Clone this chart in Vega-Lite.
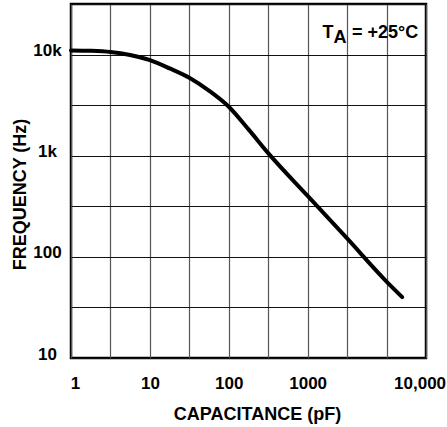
{
  "$schema": "https://vega.github.io/schema/vega-lite/v6.json",
  "width": 355,
  "height": 354,
  "autosize": {"type": "none"},
  "padding": {"left": 71, "top": 4, "right": 21, "bottom": 69},
  "background": "white",
  "config": {
    "view": {"stroke": "black", "strokeWidth": 2.5},
    "font": "Liberation Sans"
  },
  "layer": [
    {
      "data": {
        "values": [
          {"capacitance": 1, "frequency": 11000},
          {"capacitance": 1.78, "frequency": 10900},
          {"capacitance": 3.16, "frequency": 10600},
          {"capacitance": 5.6, "frequency": 9900},
          {"capacitance": 10, "frequency": 8800},
          {"capacitance": 17.8, "frequency": 7300},
          {"capacitance": 31.6, "frequency": 5900},
          {"capacitance": 56, "frequency": 4400},
          {"capacitance": 100, "frequency": 3050},
          {"capacitance": 178, "frequency": 1820},
          {"capacitance": 316, "frequency": 1060},
          {"capacitance": 1000, "frequency": 400},
          {"capacitance": 3162, "frequency": 152},
          {"capacitance": 10000, "frequency": 57},
          {"capacitance": 15800, "frequency": 40}
        ]
      },
      "mark": {"type": "line", "color": "black", "strokeWidth": 4, "interpolate": "monotone", "strokeCap": "round"},
      "encoding": {
        "x": {
          "field": "capacitance",
          "type": "quantitative",
          "scale": {"type": "log", "domain": [1, 31622.8], "nice": false},
          "axis": {
            "values": [1, 3.16228, 10, 31.6228, 100, 316.228, 1000, 3162.28, 10000, 31622.8],
            "grid": true,
            "gridColor": "#555555",
            "gridWidth": 1.2,
            "domain": false,
            "ticks": false,
            "labelExpr": "datum.value == 1 ? '1' : datum.value == 10 ? '10' : datum.value == 100 ? '100' : datum.value == 1000 ? '1000' : datum.value == 10000 ? '10,000' : ''",
            "labelFont": "Liberation Sans",
            "labelFontWeight": "bold",
            "labelFontSize": 17,
            "labelColor": "black",
            "labelPadding": 17,
            "labelFlush": false,
            "labelOverlap": false,
            "labelBound": false,
            "labelOffset": {"condition": [{"test": "datum.value > 9000 && datum.value < 11000", "value": 33}, {"test": "datum.value < 1.5", "value": 4}], "value": 0},
            "title": "CAPACITANCE (pF)",
            "titleFont": "Liberation Sans",
            "titleFontSize": 18,
            "titleFontWeight": "bold",
            "titleColor": "black",
            "titleBaseline": "alphabetic",
            "titleX": 186,
            "titleY": 61
          }
        },
        "y": {
          "field": "frequency",
          "type": "quantitative",
          "scale": {"type": "log", "domain": [10, 31622.8], "nice": false},
          "axis": {
            "values": [10, 31.6228, 100, 316.228, 1000, 3162.28, 10000, 31622.8],
            "grid": true,
            "gridColor": "#111111",
            "gridWidth": 1.2,
            "domain": false,
            "ticks": false,
            "labelExpr": "datum.value == 10 ? '10' : datum.value == 100 ? '100' : datum.value == 1000 ? '1k' : datum.value == 10000 ? '10k' : ''",
            "labelFont": "Liberation Sans",
            "labelFontWeight": "bold",
            "labelFontSize": 17,
            "labelColor": "black",
            "labelAlign": "center",
            "labelPadding": 24,
            "labelOffset": -4,
            "labelFlush": false,
            "labelOverlap": false,
            "labelBound": false,
            "title": "FREQUENCY (Hz)",
            "titleFont": "Liberation Sans",
            "titleFontSize": 18,
            "titleFontWeight": "bold",
            "titleColor": "black",
            "titleBaseline": "alphabetic",
            "titleAlign": "center",
            "titleX": -46,
            "titleY": 190
          }
        }
      }
    },
    {
      "data": {"values": [{"t": "T"}]},
      "mark": {"type": "text", "font": "Liberation Sans", "fontWeight": "bold", "fontSize": 18, "color": "black", "align": "center", "baseline": "alphabetic", "dx": -98, "dy": 34},
      "encoding": {
        "x": {"datum": 31622.8, "type": "quantitative"},
        "y": {"datum": 31622.8, "type": "quantitative"},
        "text": {"field": "t"}
      }
    },
    {
      "data": {"values": [{"t": "A"}]},
      "mark": {"type": "text", "font": "Liberation Sans", "fontWeight": "bold", "fontSize": 18, "color": "black", "align": "center", "baseline": "alphabetic", "dx": -86, "dy": 39},
      "encoding": {
        "x": {"datum": 31622.8, "type": "quantitative"},
        "y": {"datum": 31622.8, "type": "quantitative"},
        "text": {"field": "t"}
      }
    },
    {
      "data": {"values": [{"t": "= +25°C"}]},
      "mark": {"type": "text", "font": "Liberation Sans", "fontWeight": "bold", "fontSize": 18, "color": "black", "align": "left", "baseline": "alphabetic", "dx": -74, "dy": 34},
      "encoding": {
        "x": {"datum": 31622.8, "type": "quantitative"},
        "y": {"datum": 31622.8, "type": "quantitative"},
        "text": {"field": "t"}
      }
    }
  ]
}
